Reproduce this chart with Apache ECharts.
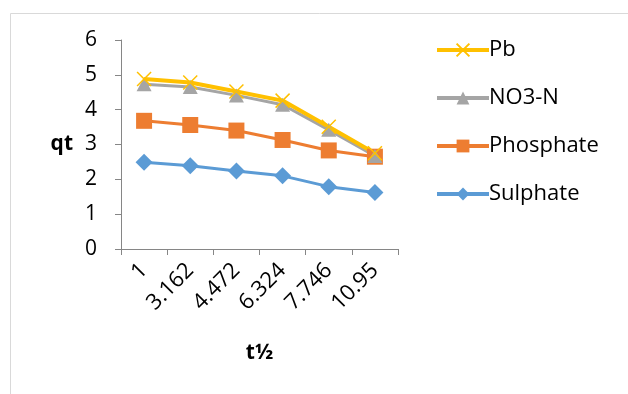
<!doctype html>
<html>
<head>
  <meta charset="utf-8">
  <script src="https://cdn.jsdelivr.net/npm/echarts@6/dist/echarts.min.js"></script>
  <style>
    html, body { margin: 0; width: 100%; height: 100%; background: #fff; }
    #main { width: 628px; height: 394px; }
  </style>
</head>
<body>
  <div id="main"></div>
  <script>
    var categories = ['1', '3.162', '4.472', '6.324', '7.746', '10.95'];
    var pb = [4.88, 4.78, 4.52, 4.26, 3.51, 2.75];
    var no3n = [4.73, 4.65, 4.41, 4.14, 3.42, 2.67];
    var phosphate = [3.68, 3.56, 3.40, 3.13, 2.83, 2.65];
    var sulphate = [2.49, 2.39, 2.24, 2.10, 1.79, 1.62];

    var font = '"Open Sans", Lato, sans-serif';
    var axisGray = '#868686';
    var cross = 'path://M0,0L10,10M10,0L0,10';

    function lineSeries(name, data, color, symbol, size, width) {
      return {
        name: name,
        type: 'line',
        data: data,
        symbol: symbol,
        symbolSize: size,
        lineStyle: { color: color, width: width },
        itemStyle: { color: color, borderColor: color, borderWidth: symbol === cross ? 1.5 : 0 },
        emphasis: { disabled: true },
        animation: false
      };
    }

    var chart = echarts.init(document.getElementById('main'));
    chart.setOption({
      textStyle: { fontFamily: font },
      graphic: [
        { type: 'polyline', shape: { points: [[10.5, 394], [10.5, 13.5], [628, 13.5]] },
          style: { stroke: '#d9d9d9', lineWidth: 1, fill: null } }
      ],
      grid: { left: 121, right: 230, top: 40, bottom: 145 },
      legend: {
        orient: 'vertical',
        left: 430,
        top: 34,
        itemWidth: 52,
        itemHeight: 16,
        itemGap: 26,
        data: ['Pb', 'NO3-N', 'Phosphate', 'Sulphate'],
        lineStyle: { width: 4 },
        textStyle: { fontFamily: font, fontSize: 22, color: '#000', padding: [0, 0, 0, -5] }
      },
      xAxis: {
        type: 'category',
        data: categories,
        boundaryGap: true,
        name: 't½',
        nameLocation: 'middle',
        nameGap: 94,
        nameTextStyle: { fontFamily: font, fontSize: 21, fontWeight: 'bold', color: '#000' },
        axisLine: { lineStyle: { color: axisGray } },
        axisTick: { show: true, alignWithLabel: false, length: 6, lineStyle: { color: axisGray } },
        axisLabel: { rotate: 45, fontSize: 22, color: '#000', margin: 18, fontFamily: font, interval: 0 },
        splitLine: { show: false }
      },
      yAxis: {
        type: 'value',
        min: 0,
        max: 6,
        interval: 1,
        name: 'qt',
        nameLocation: 'middle',
        nameRotate: 0,
        nameGap: 48,
        nameTextStyle: { fontFamily: font, fontSize: 21, fontWeight: 'bold', color: '#000' },
        axisLine: { show: true, lineStyle: { color: axisGray } },
        axisTick: { show: true, length: 6, lineStyle: { color: axisGray } },
        axisLabel: { fontSize: 21, color: '#000', margin: 24, fontFamily: font },
        splitLine: { show: false }
      },
      series: [
        lineSeries('Sulphate', sulphate, '#5B9BD5', 'diamond', [17, 17], 3),
        lineSeries('Phosphate', phosphate, '#ED7D31', 'rect', [16, 16], 3),
        lineSeries('NO3-N', no3n, '#A5A5A5', 'triangle', [15, 14], 3),
        lineSeries('Pb', pb, '#FFC000', cross, [14, 14], 4)
      ]
    });
  </script>
</body>
</html>
